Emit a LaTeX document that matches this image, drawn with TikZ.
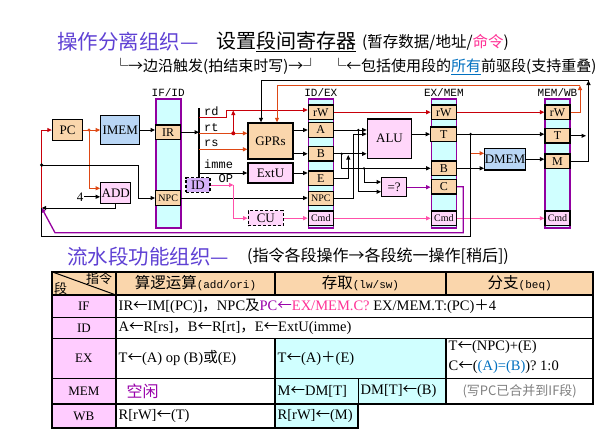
\documentclass[tikz,border=0pt]{standalone}
\usepackage{fontspec}
\setmainfont{Liberation Serif}
\newfontfamily\cjk{Noto Sans CJK SC}
\newfontfamily\mono{Liberation Mono}
\usetikzlibrary{positioning,calc,arrows.meta}
\definecolor{peach}{RGB}{250,214,172}
\definecolor{regcyan}{RGB}{208,255,255}
\definecolor{regpurple}{RGB}{145,0,160}
\definecolor{boxpink}{RGB}{255,214,250}
\definecolor{rowpink}{RGB}{255,204,255}
\definecolor{memblue}{RGB}{185,214,245}
\definecolor{idpurple}{RGB}{214,178,250}
\definecolor{rdred}{RGB}{200,0,10}
\definecolor{rtorange}{RGB}{222,72,20}
\definecolor{cmdpink}{RGB}{255,80,170}
\definecolor{brpurple}{RGB}{150,0,160}
\definecolor{titleblue}{RGB}{95,65,212}
\definecolor{linkblue}{RGB}{0,112,192}
\definecolor{hotpink}{RGB}{255,50,150}
\definecolor{idlepurple}{RGB}{153,0,170}
\definecolor{notegrey}{RGB}{128,128,128}
\newcommand{\larr}{{\cjk ←}}
\newcommand{\zh}[1]{{\cjk #1}}

\begin{document}
\begin{tikzpicture}[x=1pt,y=-1pt,
	>={Triangle[length=4.5pt,width=4pt]},
	unitbox/.style={draw,line width=1.3pt,inner sep=0pt,font=\fontsize{13}{13}\selectfont},
	fieldbox/.style={draw,line width=1.3pt,fill=peach,minimum width=25pt,minimum height=14.5pt,inner sep=0pt,font=\fontsize{12}{12}\selectfont},
	cmdbox/.style={fieldbox,fill=boxpink,font=\fontsize{10}{10}\selectfont},
	pipereg/.style={draw=regpurple,line width=1.6pt,fill=regcyan,minimum width=25pt,minimum height=129pt,inner sep=0pt},
	reglabel/.style={inner sep=0pt,font=\mono\fontsize{11}{11}\selectfont},
	sigtext/.style={inner sep=0pt,anchor=west,font=\mono\fontsize{12}{12}\selectfont},
	celltext/.style={inner sep=0pt,anchor=west,font=\fontsize{14.5}{14.5}\selectfont},
	wire/.style={line width=1pt},
	redw/.style={wire,color=rdred},
	orw/.style={wire,color=rtorange},
	pinkw/.style={wire,color=cmdpink},
	brw/.style={wire,color=brpurple,line width=1.3pt},
	tline/.style={line width=1.4pt}]
	\fill[white] (0,0) rectangle (608,432);
	\useasboundingbox (0,0) rectangle (608,432);
	\node[anchor=west,inner sep=0pt,text=titleblue,font=\cjk\fontsize{20.5}{20.5}\selectfont] (title) at (57,41.5) {操作分离组织—};
	\node[anchor=west,inner sep=0pt,font=\cjk\fontsize{20}{20}\selectfont] (titleb) at (216,41.5) {设置\underline{段间寄存器}};
	\node[anchor=west,inner sep=0pt,font=\cjk\fontsize{15.5}{15.5}\selectfont] (titlec) at (362,42.5) {(暂存数据/地址/\textcolor{hotpink}{命令})};
	\node[anchor=west,inner sep=0pt,font=\cjk\fontsize{15}{15}\selectfont] (edgenote) at (113,66.5) {└→边沿触发(拍结束时写)→┘};
	\node[anchor=west,inner sep=0pt,font=\cjk\fontsize{15}{15}\selectfont] (prenote) at (331,66.5) {└←包括使用段的\textcolor{linkblue}{\underline{所有}}前驱段(支持重叠)};
	\node[unitbox,fill=peach,minimum width=30pt,minimum height=21pt] (pc) at (67.5,130) {PC};
	\node[unitbox,fill=memblue,minimum width=39pt,minimum height=29pt] (imem) at (120.3,130) {IMEM};
	\node[unitbox,fill=boxpink,minimum width=30pt,minimum height=21pt] (add) at (115.7,192.8) {ADD};
	\node[inner sep=1pt,font=\fontsize{13}{13}\selectfont] (four) at (80,196.8) {4};
	\node[unitbox,fill=peach,minimum width=45pt,minimum height=36pt] (gprs) at (270.5,141) {GPRs};
	\node[unitbox,fill=boxpink,minimum width=45pt,minimum height=20pt] (extu) at (270.5,173) {ExtU};
	\node[unitbox,fill=idpurple,dash pattern=on 3pt off 2pt,minimum width=24pt,minimum height=14.6pt] (id) at (198,185) {ID};
	\node[unitbox,fill=boxpink,dash pattern=on 3pt off 2pt,minimum width=35pt,minimum height=15pt] (cu) at (265.8,218.2) {CU};
	\node[unitbox,fill=boxpink,minimum width=44.4pt,minimum height=39.3pt] (alu) at (389.5,138.7) {ALU};
	\node[unitbox,fill=boxpink,minimum width=25pt,minimum height=19pt] (eq) at (394.2,187.2) {=?};
	\node[unitbox,fill=memblue,minimum width=40pt,minimum height=21.7pt] (dmem) at (505,159.2) {DMEM};
	\node[pipereg] (ifid) at (168.2,163.5) {};
	\node[pipereg] (idex) at (320.8,163.5) {};
	\node[pipereg] (exmem) at (443.8,163.5) {};
	\node[pipereg] (memwb) at (557.5,163.5) {};
	\node[reglabel] (ifidlab) at (168.2,92.5) {IF/ID};
	\node[reglabel] (idexlab) at (320.8,92.5) {ID/EX};
	\node[reglabel] (exmemlab) at (443.8,92.5) {EX/MEM};
	\node[reglabel] (memwblab) at (557.5,92.5) {MEM/WB};
	\node[fieldbox] (ir) at (168.2,132.2) {IR};
	\node[fieldbox,font=\fontsize{10}{10}\selectfont] (npc1) at (168.2,198) {NPC};
	\node[fieldbox] (rw1) at (320.8,112.2) {rW};
	\node[fieldbox] (a) at (320.8,130) {A};
	\node[fieldbox] (b) at (320.8,153.8) {B};
	\node[fieldbox] (e) at (320.8,178.3) {E};
	\node[fieldbox,font=\fontsize{10}{10}\selectfont] (npc2) at (320.8,198.5) {NPC};
	\node[cmdbox] (cmd1) at (320.8,218.3) {Cmd};
	\node[fieldbox] (rw2) at (443.8,112.2) {rW};
	\node[fieldbox,minimum width=26pt] (t1) at (443.8,134.2) {T};
	\node[fieldbox] (b1) at (443.8,168.3) {B};
	\node[fieldbox] (c1) at (443.8,186.8) {C};
	\node[cmdbox] (cmd2) at (443.8,218.3) {Cmd};
	\node[fieldbox] (rw3) at (557.5,112.2) {rW};
	\node[fieldbox] (t2) at (557.5,135.8) {T};
	\node[fieldbox] (m) at (557.5,161.3) {M};
	\node[cmdbox] (cmd3) at (557.5,218.3) {Cmd};
	\node[sigtext] (rdlab) at (204,111.5) {rd};
	\node[sigtext] (rtlab) at (204,127.5) {rt};
	\node[sigtext] (rslab) at (204,143) {rs};
	\node[sigtext] (immelab) at (204,164) {imme};
	\node[sigtext] (oplab) at (218.5,179) {OP};
	\coordinate (bartop) at (199,108);
	\coordinate (barbot) at (199,177.7);
	\coordinate (pcmux) at (41.7,208);
	\coordinate (wbtop) at (261,80.5);
	\coordinate (rwtop) at (277,85.5);
	\draw[line width=1.5pt] (bartop) -- (barbot);
	\draw[wire,->] (imem.east) -- (imem.east -| ir.west);
	\draw[wire,->] (ir.east) -- (ir.east -| bartop);
	\draw[redw,->] (199,117) -- (226,117) -- (226,110) -- (rw1.west |- 0,110);
	\draw[orw,->] (199,133.3) -- (gprs.west |- 0,133.3);
	\fill[rdred] (233.3,133.3) circle (2pt);
	\draw[redw,->] (233.3,133.3) -- (233.3,110.5);
	\draw[orw,->] (199,149.3) -- (gprs.west |- 0,149.3);
	\draw[wire,->] (199,173) -- (extu.west);
	\draw[wire,->] (gprs.east |- a.west) -- (a.west);
	\draw[wire,->] (gprs.east |- b.west) -- (b.west);
	\draw[wire,->] (extu.east) -- (extu.east -| e.west);
	\draw[orw,->] (pc.east) -- (pc.east -| imem.west);
	\fill[rtorange] (89,130) circle (1.6pt);
	\draw[orw,->] (89,130) -- (89,188.3) -- (add.west |- 0,188.3);
	\draw[wire,->] (four.east) -- (four.east -| add.west);
	\draw[wire,->] (add.south) -- (add.south |- pcmux) -- (pcmux);
	\draw[redw,->] (pcmux) -- (pcmux |- pc.west) -- (pc.west);
	\fill (41.7,165) circle (1.8pt);
	\draw[wire,->] (41.7,165) -- (138.3,165) -- (138.3,198) -- (npc1.west);
	\draw[wire,->] (npc1.east) -- (npc1.east -| npc2.west);
	\draw[pinkw,->] (id.east) -- (233.5,185);
	\draw[pinkw,->] (233.5,185) -- (233.5,218.2) -- (cu.west);
	\draw[pinkw,->] (cu.east) -- (cu.east -| cmd1.west);
	\draw[pinkw,->] (cmd1.east) -- (cmd2.west);
	\draw[pinkw,->] (cmd2.east) -- (cmd3.west);
	\draw[redw,->] (rw1.east) -- (rw2.west);
	\draw[redw,->] (rw2.east) -- (rw3.west);
	\draw[wire,->] (a.east) -- (a.east -| alu.west);
	\draw[wire,->] (npc2.east) -- (353.3,198.5) -- (353.3,134) -- (alu.west |- 0,134);
	\fill (358.3,130) circle (1.3pt);
	\draw[wire,->] (358.3,130) -- (358.3,191.7) -- (eq.west |- 0,191.7);
	\draw[wire,->] (b.east) -- (b.east -| alu.west);
	\draw[wire,->] (e.east) -- (348.3,178.3) -- (348.3,155);
	\fill (341.7,153.8) circle (1.3pt);
	\draw[wire,->] (341.7,153.8) -- (341.7,168.3) -- (b1.west);
	\fill (364,168.3) circle (1.3pt);
	\draw[wire,->] (364,168.3) -- (364,182) -- (eq.west |- 0,182);
	\draw[wire,->] (alu.east |- t1.west) -- (t1.west);
	\draw[brw,->] (eq.east) -- (eq.east -| c1.west);
	\draw[brw,->] (c1.east) -- (463.3,186.8) -- (463.3,232.7) -- (55,232.7) -- (pcmux);
	\draw[wire,->] (t1.east) -- (t1.east -| t2.west);
	\fill (470.7,134.2) circle (1.5pt);
	\draw[wire] (470.7,134.2) -- (470.7,236.7) -- (41.7,236.7) -- (pcmux);
	\draw[orw,->] (470.7,153.3) -- (dmem.west |- 0,153.3);
	\draw[wire,->] (b1.east) -- (b1.east -| dmem.west);
	\draw[wire,->] (dmem.east) -- (dmem.east -| m.west);
	\draw[wire,->] (t2.east) -- (586,135.8);
	\draw[wire,->] (m.east) -- (588.5,161.3) -- (588.5,80.5);
	\draw[wire,->] (588.5,80.5) -- (wbtop) -- (wbtop |- gprs.north);
	\draw[orw,->] (rw3.east) -- (580,112.2) -- (580,85.5);
	\draw[orw,->] (580,85.5) -- (rwtop) -- (rwtop |- gprs.north);
	\node[anchor=west,inner sep=0pt,text=titleblue,font=\cjk\fontsize{20.5}{20.5}\selectfont] (title2) at (67,256.7) {流水段功能组织—};
	\node[anchor=west,inner sep=0pt,font=\cjk\fontsize{16}{16}\selectfont] (title2b) at (247,256.7) {(指令各段操作→各段统一操作[稍后])};
	\fill[peach] (51.7,271.7) rectangle (593.3,295);
	\fill[rowpink] (51.7,295) rectangle (116,428.3);
	\fill[regcyan] (275,338.3) rectangle (446,404);
	\fill[regcyan] (275,404) rectangle (358.3,428.3);
	\draw[line width=1.8pt] (51.7,271.7) -- (593.3,271.7) -- (593.3,404) -- (358.3,404) -- (358.3,428.3) -- (51.7,428.3) -- cycle;
	\foreach \y in {295,317.5,338.3,378.3,404} \draw[tline] (51.7,\y) -- (593.3,\y);
	\draw[tline] (116,271.7) -- (116,428.3);
	\draw[tline] (275,271.7) -- (275,295) (275,338.3) -- (275,428.3);
	\draw[tline] (446,271.7) -- (446,295) (446,338.3) -- (446,404);
	\draw[tline] (358.3,378.3) -- (358.3,404);
	\draw[line width=1pt] (51.7,271.7) -- (116,295);
	\node[inner sep=0pt,font=\cjk\fontsize{13}{13}\selectfont] (hdinstr) at (99,279) {指令};
	\node[inner sep=0pt,font=\cjk\fontsize{13}{13}\selectfont] (hdstage) at (60.5,288.5) {段};
	\node[inner sep=0pt] (hdarith) at (195.5,283.3) {\zh{\fontsize{15.5}{15.5}\selectfont 算逻运算}{\mono\fontsize{11}{11}\selectfont(add/ori)}};
	\node[inner sep=0pt] (hdmem) at (360.5,283.3) {\zh{\fontsize{15.5}{15.5}\selectfont 存取}{\mono\fontsize{11}{11}\selectfont(lw/sw)}};
	\node[inner sep=0pt] (hdbr) at (519.7,283.3) {\zh{\fontsize{15.5}{15.5}\selectfont 分支}{\mono\fontsize{11}{11}\selectfont(beq)}};
	\foreach \s/\y in {IF/306.2,ID/327.9,EX/358.3,MEM/391.2,WB/416.2}
		\node[inner sep=0pt,font=\fontsize{13}{13}\selectfont] (st\s) at (83.9,\y) {\s};
	\node[celltext] (ifops) at (118.5,306.2) {IR\larr IM[(PC)]\zh{，}NPC\zh{及}\textcolor{idlepurple}{PC\larr}\textcolor{hotpink}{EX/MEM.C?} EX/MEM.T:(PC)\zh{＋}4};
	\node[celltext] (idops) at (118.5,327.9) {A\larr R[rs]\zh{，}B\larr R[rt]\zh{，}E\larr ExtU(imme)};
	\node[celltext] (exarith) at (118.5,358.3) {T\larr(A) op (B)\zh{或}(E)};
	\node[celltext] (exmemop) at (277.5,358.3) {T\larr(A)\zh{＋}(E)};
	\node[celltext] (exbra) at (448.5,347.5) {T\larr(NPC)+(E)};
	\node[celltext] (exbrb) at (448.5,367.5) {C\larr(\textcolor{linkblue}{(A)=(B)})? 1:0};
	\node[inner sep=0pt,text=idlepurple,font=\cjk\fontsize{16}{16}\selectfont] (memidle) at (142.5,391.2) {空闲};
	\node[celltext] (memload) at (277.5,391.2) {M\larr DM[T]};
	\node[celltext] (memstore) at (360.5,391.2) {DM[T]\larr(B)};
	\node[inner sep=0pt,text=notegrey,font=\cjk\fontsize{13}{13}\selectfont] (membr) at (519.7,391.2) {(写PC已合并到IF段)};
	\node[celltext] (wbarith) at (118.5,416.2) {R[rW]\larr(T)};
	\node[celltext] (wbload) at (277.5,416.2) {R[rW]\larr(M)};
\end{tikzpicture}
\end{document}
